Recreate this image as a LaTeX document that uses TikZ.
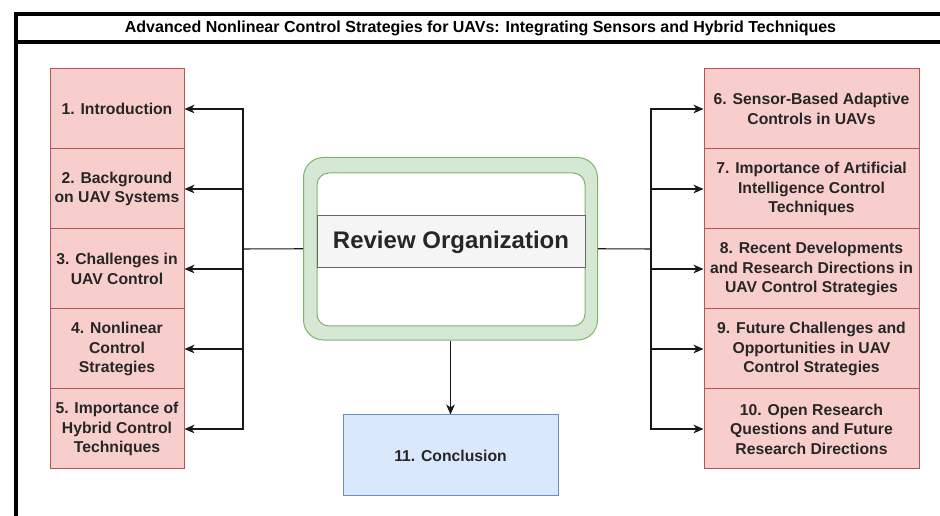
\documentclass[tikz,border=0pt]{standalone}
\usepackage{fontspec}
\setmainfont{Liberation Sans}
\usetikzlibrary{arrows.meta}
\definecolor{redfill}{HTML}{F8CECC}
\definecolor{redline}{HTML}{B85450}
\definecolor{greenfill}{HTML}{D5E8D4}
\definecolor{greenline}{HTML}{82B366}
\definecolor{bluefill}{HTML}{DAE8FC}
\definecolor{blueline}{HTML}{6C8EBF}
\definecolor{grayfill}{HTML}{F5F5F5}
\definecolor{grayline}{HTML}{666666}
\definecolor{txt}{HTML}{262626}
\tikzset{
  sect/.style={draw=redline, fill=redfill, line width=0.75pt, align=center, inner sep=0pt,
    text=txt, font=\bfseries\fontsize{11.8}{14.6}\selectfont, minimum height=60pt},
  leftsect/.style={sect, minimum width=100.5pt},
  rightsect/.style={sect, minimum width=161.25pt},
  concl/.style={draw=blueline, fill=bluefill, line width=0.75pt, align=center, inner sep=0pt,
    text=txt, font=\bfseries\fontsize{11.8}{14.6}\selectfont, minimum width=161.25pt, minimum height=60.75pt},
  arr/.style={draw=black!90, line width=0.8pt, -{Stealth[length=7.5pt,width=6.5pt,inset=2.2pt]}},
  plain/.style={draw=black!90, line width=0.8pt},
  frame/.style={draw=black, line width=2.4pt}
}
\begin{document}
\begin{tikzpicture}[x=0.75pt,y=-0.75pt]
\useasboundingbox (0,0) rectangle (940,516);
\clip (0,0) rectangle (940,516);
% frame
\draw[frame] (16,14) rectangle (980,560);
\draw[frame] (16,42) -- (980,42);
\node[font=\bfseries\fontsize{12}{14}\selectfont, text=black] (title) at (480.5,28.5)
  {Advanced Nonlinear Control Strategies for UAVs: Integrating Sensors and Hybrid Techniques};
% central
\node[draw=greenline, fill=greenfill, line width=0.75pt, rounded corners=15pt,
  minimum width=220.5pt, minimum height=136.9pt, inner sep=0pt] (review) at (450.5,248.75) {};
\node[draw=greenline, fill=white, line width=0.75pt, rounded corners=9pt,
  minimum width=201pt, minimum height=114.75pt, inner sep=0pt] (inner) at (451,249.5) {};
\node[draw=grayline, fill=grayfill, line width=0.75pt, minimum width=201pt, minimum height=39pt,
  inner sep=0pt, text=txt, font=\bfseries\fontsize{18}{22}\selectfont] (band) at (451,242) {Review Organization};
% left
\node[leftsect] (s1) at (117,109) {1. Introduction};
\node[leftsect] (s2) at (117,189) {2. Background\\on UAV Systems};
\node[leftsect] (s3) at (117,269) {3. Challenges in\\UAV Control};
\node[leftsect] (s4) at (117,349) {4. Nonlinear\\Control\\Strategies};
\node[leftsect] (s5) at (117,429) {5. Importance of\\Hybrid Control\\Techniques};
% right
\node[rightsect] (s6) at (811.5,109) {6. Sensor-Based Adaptive\\Controls in UAVs};
\node[rightsect] (s7) at (811.5,189) {7. Importance of Artificial\\Intelligence Control\\Techniques};
\node[rightsect] (s8) at (811.5,269) {8. Recent Developments\\and Research Directions in\\UAV Control Strategies};
\node[rightsect] (s9) at (811.5,349) {9. Future Challenges and\\Opportunities in UAV\\Control Strategies};
\node[rightsect] (s10) at (811.5,429) {10. Open Research\\Questions and Future\\Research Directions};
% conclusion
\node[concl] (s11) at (450.5,455.5) {11. Conclusion};
% connectors
\coordinate (jl) at (243,249);
\coordinate (jr) at (651,249);
\draw[plain] (review.west) -- (jl);
\draw[plain] (review.east) -- (jr);
\foreach \t in {s1,s2,s3,s4,s5} { \draw[arr] (jl) |- (\t.east); }
\foreach \t in {s6,s7,s8,s9,s10} { \draw[arr] (jr) |- (\t.west); }
\draw[arr] (review.south) -- (s11.north);
\end{tikzpicture}
\end{document}
